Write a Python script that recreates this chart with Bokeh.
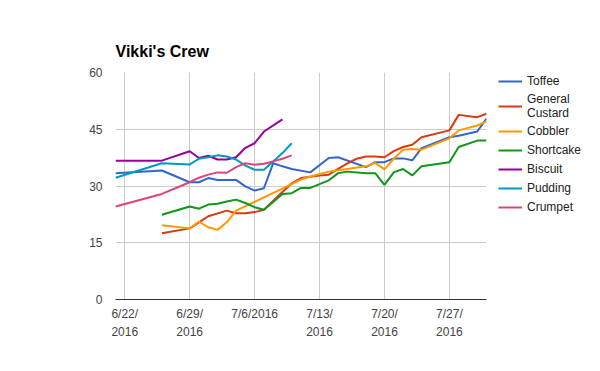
import pandas as pd
from bokeh.plotting import figure
from bokeh.models import Range1d, FixedTicker, Legend, LegendItem
from bokeh.embed import file_html
from bokeh.resources import INLINE

# ---- data ----
toffee_dates = ["6/21", "6/26", "6/29", "6/30", "7/1", "7/2", "7/4", "7/5", "7/6", "7/7", "7/8", "7/9",
                "7/10", "7/12", "7/14", "7/15", "7/18", "7/19", "7/20", "7/21", "7/22", "7/23", "7/24",
                "7/27", "7/28", "7/30", "7/31"]
toffee_vals = [33.4, 34.1, 31.0, 31.0, 32.1, 31.6, 31.6, 29.9, 28.8, 29.4, 36.0, 35.2,
               34.5, 33.6, 37.4, 37.6, 35.0, 36.3, 36.3, 37.3, 37.3, 36.8, 40.0,
               42.9, 43.3, 44.4, 47.8]

custard_dates = ["6/26", "6/29", "6/30", "7/1", "7/3", "7/4", "7/5", "7/6", "7/7", "7/9", "7/10", "7/11",
                 "7/13", "7/14", "7/15", "7/16", "7/17", "7/18", "7/19", "7/20", "7/21", "7/22", "7/23",
                 "7/24", "7/27", "7/28", "7/30", "7/31"]
custard_vals = [17.5, 18.8, 20.4, 22.0, 23.5, 22.8, 22.8, 23.1, 23.7, 28.4, 30.7, 32.1,
                32.8, 33.0, 34.5, 36.0, 37.2, 37.8, 37.8, 37.6, 39.2, 40.3, 40.9,
                42.9, 44.7, 48.8, 48.2, 49.1]

cobbler_dates = ["6/26", "6/29", "6/30", "7/1", "7/2", "7/3", "7/4", "7/11", "7/12", "7/14", "7/16",
                 "7/18", "7/19", "7/20", "7/21", "7/22", "7/23", "7/24", "7/27", "7/28", "7/30", "7/31"]
cobbler_vals = [19.6, 18.8, 20.6, 19.1, 18.4, 20.4, 23.5, 31.7, 32.5, 33.8, 34.5,
                35.2, 36.1, 34.4, 37.2, 39.6, 39.8, 39.6, 42.6, 44.7, 46.0, 47.1]

shortcake_dates = ["6/26", "6/29", "6/30", "7/1", "7/2", "7/3", "7/4", "7/5", "7/6", "7/7", "7/9",
                   "7/10", "7/11", "7/12", "7/14", "7/15", "7/16", "7/18", "7/19", "7/20", "7/21",
                   "7/22", "7/23", "7/24", "7/27", "7/28", "7/30", "7/31"]
shortcake_vals = [22.4, 24.6, 24.0, 25.1, 25.3, 25.9, 26.4, 25.5, 24.4, 23.7, 27.9,
                  28.1, 29.5, 29.5, 31.5, 33.4, 33.8, 33.4, 33.4, 30.3, 33.6,
                  34.5, 32.8, 35.2, 36.3, 40.3, 42.0, 42.0]

biscuit_dates = ["6/21", "6/26", "6/29", "6/30", "7/1", "7/2", "7/3", "7/4", "7/5", "7/6", "7/7", "7/9"]
biscuit_vals = [36.7, 36.7, 39.2, 37.4, 38.0, 37.0, 37.0, 37.6, 40.1, 41.3, 44.4, 47.6]

pudding_dates = ["6/21", "6/26", "6/29", "6/30", "7/1", "7/2", "7/3", "7/4", "7/5", "7/6", "7/7",
                 "7/8", "7/9", "7/10"]
pudding_vals = [32.2, 36.0, 35.7, 37.2, 37.6, 38.1, 37.8, 37.0, 35.4, 34.3, 34.3,
                36.5, 38.7, 41.3]

crumpet_dates = ["6/21", "6/26", "6/29", "6/30", "7/1", "7/2", "7/3", "7/4", "7/5", "7/6", "7/7",
                 "7/8", "7/9", "7/10"]
crumpet_vals = [24.6, 27.9, 31.0, 32.2, 33.0, 33.6, 33.5, 35.0, 36.0, 35.6, 35.9,
                36.5, 37.2, 38.1]

series_names = ["Toffee", "General\nCustard", "Cobbler", "Shortcake", "Biscuit", "Pudding", "Crumpet"]
series_colors = ["#3366cc", "#dc3912", "#ff9900", "#109618", "#990099", "#0099c6", "#dd4477"]
series_data = [(toffee_dates, toffee_vals), (custard_dates, custard_vals), (cobbler_dates, cobbler_vals),
               (shortcake_dates, shortcake_vals), (biscuit_dates, biscuit_vals),
               (pudding_dates, pudding_vals), (crumpet_dates, crumpet_vals)]

tick_dates = ["6/22", "6/29", "7/6", "7/13", "7/20", "7/27"]
tick_labels = ["6/22/\n2016", "6/29/\n2016", "7/6/2016", "7/13/\n2016", "7/20/\n2016", "7/27/\n2016"]
y_ticks = [0, 15, 30, 45, 60]
x_start, x_end = "6/21", "7/31"


def to_dt(s):
    return pd.to_datetime("2016/" + s, format="%Y/%m/%d")


def to_ms(s):
    return int(to_dt(s).value // 10**6)


FONT = "Liberation Sans"

p = figure(frame_width=371, frame_height=227, x_axis_type="datetime", output_backend="svg",
           toolbar_location=None,
           x_range=Range1d(to_dt(x_start), to_dt(x_end)), y_range=Range1d(0, 60),
           min_border_left=115, min_border_right=10, min_border_top=72, min_border_bottom=64)
p.outline_line_color = None
p.background_fill_color = "white"

p.title.text = "Vikki's Crew"
p.title.text_font = FONT
p.title.text_font_size = "16px"
p.title.text_font_style = "bold"
p.title.text_color = "#000000"
p.title.align = "left"
p.title.standoff = 26

ticks_ms = [to_ms(d) for d in tick_dates]
p.xaxis.ticker = FixedTicker(ticks=ticks_ms)
p.xaxis.major_label_overrides = {t: l for t, l in zip(ticks_ms, tick_labels)}
p.yaxis.ticker = FixedTicker(ticks=y_ticks)

for ax in (p.xaxis[0], p.yaxis[0]):
    ax.major_tick_line_color = None
    ax.minor_tick_line_color = None
    ax.major_tick_out = 0
    ax.major_tick_in = 0
    ax.minor_tick_out = 0
    ax.minor_tick_in = 0
    ax.major_label_text_font = FONT
    ax.major_label_text_font_size = "12px"
    ax.major_label_text_color = "#444444"
p.yaxis.axis_line_color = None
p.yaxis.major_label_standoff = 13
p.xaxis.axis_line_color = "#333333"
p.xaxis.major_label_standoff = 7
p.xaxis.major_label_text_line_height = 1.35

p.xgrid.grid_line_color = "#cccccc"
p.ygrid.grid_line_color = "#cccccc"

items = []
for name, color, (dates, vals) in zip(series_names, series_colors, series_data):
    r = p.line([to_dt(d) for d in dates], vals, line_color=color, line_width=2)
    items.append(LegendItem(label=name, renderers=[r]))

legend = Legend(items=items, location=(12, 84), border_line_color=None, background_fill_alpha=0,
                padding=0, margin=0, spacing=3, glyph_width=24, glyph_height=16, label_height=16,
                label_standoff=5, label_text_font=FONT, label_text_font_size="12px",
                label_text_color="#222222", label_text_line_height=1.64)
p.add_layout(legend, "right")

open("out.html", "w").write(file_html(p, INLINE))
